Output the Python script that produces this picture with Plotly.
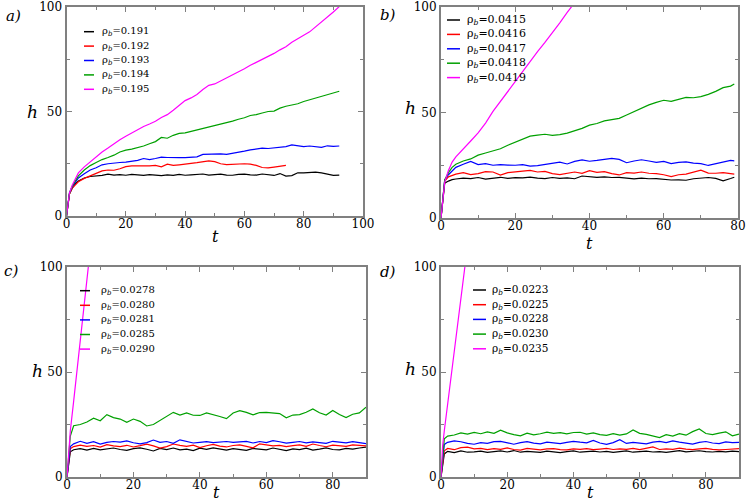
import plotly.graph_objects as go

W, H = 747, 503
COLORS = ["black", "#ff0000", "#0000ff", "#00a000", "#ff00ff"]
SERIF = "DejaVu Serif"

# ---- panel a) ----
T_A = [0, 0.5, 1, 2, 3, 4, 6, 8, 10, 12, 14, 16, 18, 20, 22, 24, 26, 28, 30, 32,
       34, 36, 38, 40, 42, 44, 46, 48, 50, 52, 54, 56, 58, 60, 62, 64, 66, 68, 70,
       72, 74, 76, 78, 80, 82, 84, 86, 88, 90, 92]
RHO_A = ["0.191", "0.192", "0.193", "0.194", "0.195"]
H_A_191 = [0, 6.5, 10.5, 13.5, 15.5, 16.8, 18.2, 18.9, 19.0, 19.4, 20.0, 19.6, 19.8,
           19.5, 19.9, 19.7, 19.4, 19.8, 19.5, 19.3, 19.7, 19.4, 19.9, 19.5, 19.7,
           19.9, 20.1, 19.6, 19.8, 20.0, 19.6, 19.5, 19.9, 20.0, 19.7, 19.6, 20.1,
           19.9, 19.4, 20.3, 19.1, 19.3, 20.7, 20.6, 20.9, 21.0, 20.6, 20.1, 19.4, 19.6]
H_A_192 = [0, 6.5, 10.5, 13.5, 15.0, 16.4, 18.0, 19.2, 20.6, 21.6, 22.0, 21.9, 22.6,
           23.6, 24.0, 23.9, 24.1, 24.0, 24.2, 23.5, 24.8, 24.2, 24.5, 25.0, 25.2,
           25.5, 26.0, 26.4, 26.0, 25.0, 24.6, 24.8, 24.9, 25.0, 24.8, 24.2, 23.2,
           23.0, 23.4, 23.8, 24.2]
H_A_193 = [0, 6.5, 11.0, 14.2, 16.4, 18.2, 20.2, 22.0, 23.1, 24.5, 25.0, 25.4, 25.6,
           25.8, 26.1, 26.6, 27.5, 27.0, 27.5, 28.2, 28.0, 27.8, 27.9, 27.9, 28.0,
           28.3, 29.5, 29.6, 29.7, 29.7, 29.5, 29.9, 30.5, 31.0, 31.6, 32.0, 32.5,
           32.3, 32.6, 32.9, 33.2, 34.0, 33.5, 33.2, 33.5, 33.0, 32.8, 33.6, 33.3, 33.5]
H_A_194 = [0, 6.5, 11.0, 14.5, 17.0, 19.2, 22.0, 24.1, 25.6, 27.0, 28.0, 29.1, 30.6,
           31.5, 32.0, 32.6, 33.5, 34.6, 35.6, 37.6, 37.2, 38.6, 39.5, 39.8, 40.5,
           41.3, 42.0, 42.4, 43.1, 44.0, 44.8, 45.4, 46.3, 47.0, 48.1, 48.5, 49.3,
           50.0, 50.2, 51.6, 52.5, 53.2, 53.7, 54.8, 55.6, 56.3, 57.0, 58.0, 58.8, 59.7]
H_A_195 = [0, 6.5, 11.0, 15.0, 18.0, 20.6, 23.5, 26.0, 28.5, 30.6, 32.5, 34.6, 36.5,
           38.2, 39.8, 41.3, 42.8, 44.0, 45.3, 47.1, 48.5, 50.6, 53.0, 55.2, 56.5,
           58.1, 60.5, 62.5, 63.2, 64.6, 66.0, 67.6, 69.0, 70.5, 72.1, 73.5, 75.0,
           76.1, 77.8, 79.5, 81.0, 83.1, 85.0, 86.5, 88.1, 90.5, 92.5, 95.0, 97.6, 100.2]

# ---- panel b) ----
T_B = [0, 0.5, 1, 2, 3, 4, 6, 8, 10, 12, 14, 16, 18, 20, 22, 24, 26, 28, 30, 32,
       34, 36, 38, 40, 42, 44, 46, 48, 50, 52, 54, 56, 58, 60, 62, 64, 66, 68, 70,
       72, 74, 76, 78, 79]
RHO_B = ["0.0415", "0.0416", "0.0417", "0.0418", "0.0419"]
H_B_415 = [0, 8.0, 16.5, 17.5, 18.2, 18.5, 18.9, 18.7, 19.2, 18.4, 19.0, 19.3, 18.8,
           19.1, 19.0, 19.4, 18.9, 18.7, 19.2, 18.8, 19.0, 18.6, 19.9, 19.6, 19.3,
           19.5, 19.2, 19.3, 18.8, 18.5, 18.9, 18.6, 18.7, 18.2, 18.0, 18.1, 17.9,
           18.6, 19.0, 19.2, 18.8, 17.6, 18.7, 19.3]
H_B_416 = [0, 8.5, 17.5, 19.5, 20.2, 20.8, 21.5, 20.6, 21.0, 22.0, 21.8, 20.3, 21.5,
           22.0, 22.2, 22.6, 21.8, 22.1, 21.0, 20.6, 21.2, 21.8, 21.2, 22.4, 21.6,
           22.0, 21.0, 20.4, 21.5, 21.3, 21.8, 21.2, 21.0, 20.5, 19.6, 20.5, 20.8,
           21.6, 22.7, 21.3, 21.2, 21.5, 20.9, 20.8]
H_B_417 = [0, 9.0, 18.0, 20.5, 22.5, 24.0, 25.5, 26.8, 25.3, 25.8, 25.0, 25.3, 25.1,
           25.0, 25.3, 24.6, 24.8, 25.4, 25.8, 26.5, 25.6, 26.8, 27.5, 26.9, 27.3,
           27.8, 28.3, 27.8, 26.2, 27.0, 27.6, 27.0, 26.4, 26.8, 25.8, 26.4, 26.6,
           26.0, 25.8, 24.9, 25.6, 26.3, 27.3, 27.1]
H_B_418 = [0, 9.0, 18.0, 21.5, 24.0, 25.5, 27.0, 28.0, 29.8, 30.8, 31.8, 32.8, 34.5,
           36.0, 37.5, 38.8, 39.3, 39.7, 39.2, 39.5, 40.2, 41.2, 42.5, 44.0, 44.8,
           46.0, 46.5, 47.2, 48.8, 50.5, 51.8, 53.6, 54.8, 55.8, 55.3, 56.4, 57.2,
           57.0, 57.5, 58.6, 60.0, 61.8, 62.5, 63.5]
H_B_419 = [0, 9.0, 17.0, 22.5, 26.5, 29.0, 33.0, 36.5, 40.3, 45.0, 50.5, 55.3, 60.0,
           64.8, 69.5, 74.2, 78.8, 83.2, 87.7, 92.5, 97.5, 102.0]

# ---- panels c) and d) share the time grid ----
T_CD = [0, 0.5, 1, 2, 4, 6, 8, 10, 12, 14, 16, 18, 20, 22, 24, 26, 28, 30, 32, 34,
        36, 38, 40, 42, 44, 46, 48, 50, 52, 54, 56, 58, 60, 62, 64, 66, 68, 70, 72,
        74, 76, 78, 80, 82, 84, 86, 88, 90]
RHO_C = ["0.0278", "0.0280", "0.0281", "0.0285", "0.0290"]
H_C_278 = [0, 7, 12.0, 13.0, 13.5, 12.8, 13.6, 12.9, 13.4, 13.8, 13.1, 12.7, 13.5,
           13.9, 13.2, 12.4, 13.6, 13.0, 13.8, 12.9, 13.3, 12.6, 13.7, 13.2, 13.9,
           13.4, 12.8, 13.5, 13.1, 12.7, 13.6, 13.3, 12.9, 13.8, 13.2, 12.6, 13.4,
           13.0, 13.7, 12.8, 13.3, 13.9, 13.1, 12.9, 13.6, 13.3, 13.8, 14.2]
H_C_280 = [0, 8, 13.5, 14.5, 15.2, 14.6, 15.0, 14.2, 15.4, 14.8, 14.5, 15.1, 14.3,
           14.9, 15.6, 14.8, 13.8, 14.5, 15.7, 15.1, 14.6, 15.2, 14.0, 14.9, 15.5,
           14.7, 14.3, 15.0, 15.3, 14.6, 13.9, 15.8, 15.2, 14.8, 15.1, 14.5, 14.9,
           15.3, 14.6, 15.7, 15.0, 14.4, 15.2, 14.8, 14.6, 15.3, 14.9, 14.8]
H_C_281 = [0, 9, 14.5, 15.8, 17.0, 16.0, 16.8, 15.7, 16.5, 16.9, 16.6, 17.2, 16.3,
           15.8, 16.4, 17.6, 16.5, 16.9, 16.0, 17.7, 16.8, 16.2, 16.5, 16.8, 16.4,
           16.7, 16.9, 16.5, 16.8, 17.0, 16.2, 16.9, 16.4, 17.3, 16.8, 16.1, 16.5,
           16.9, 16.3, 16.7, 16.4, 16.0, 17.0, 16.6, 16.3, 16.8, 16.2, 15.9]
H_C_285 = [0, 10, 19.5, 24.4, 25.0, 26.2, 28.0, 26.8, 29.7, 28.3, 27.6, 26.0, 27.6,
           26.5, 24.3, 25.0, 27.0, 28.8, 30.8, 29.5, 30.5, 29.4, 29.3, 30.5, 29.8,
           28.8, 27.8, 30.5, 31.6, 30.8, 29.6, 30.7, 30.8, 30.4, 30.2, 28.2, 29.5,
           29.7, 30.8, 32.4, 30.6, 29.5, 31.7, 29.8, 28.3, 29.9, 30.5, 33.2]
H_C_290 = [0, 14, 22, 36, 65, 94, 123]

RHO_D = ["0.0223", "0.0225", "0.0228", "0.0230", "0.0235"]
H_D_223 = [0, 7, 11.0, 12.2, 11.6, 12.4, 11.8, 12.0, 12.3, 11.7, 12.1, 12.4, 11.9,
           12.6, 11.8, 12.2, 12.0, 11.7, 12.3, 11.9, 11.6, 12.1, 12.4, 11.8, 12.0,
           12.3, 11.9, 12.2, 11.7, 12.1, 12.4, 11.8, 12.0, 12.3, 11.9, 12.1, 11.7,
           12.2, 12.6, 12.0, 12.3, 12.5, 12.1, 11.9, 12.2, 12.0, 12.3, 12.1]
H_D_225 = [0, 8, 12.5, 13.6, 13.0, 14.0, 14.2, 13.4, 13.6, 13.0, 13.5, 13.2, 13.9,
           13.1, 12.8, 13.6, 13.3, 12.9, 13.4, 13.5, 13.0, 12.9, 13.4, 13.2, 13.5,
           13.0, 13.3, 13.6, 13.1, 13.4, 13.2, 13.6, 13.0, 13.5, 14.3, 13.1, 13.4,
           13.2, 13.7, 13.3, 13.0, 13.4, 13.6, 13.2, 12.9, 13.1, 13.4, 13.5]
H_D_228 = [0, 9, 15.5, 16.5, 17.2, 16.8, 16.0, 15.6, 16.4, 16.0, 16.8, 17.0, 16.2,
           15.6, 16.4, 16.8, 16.1, 15.8, 16.6, 16.3, 15.9, 16.5, 17.0, 16.6, 16.3,
           17.4, 16.2, 15.5, 16.4, 17.8, 16.0, 16.5, 16.2, 15.8, 16.6, 17.0, 16.4,
           17.2, 16.6, 16.3, 15.7, 16.5, 16.9, 16.2, 15.9, 16.7, 16.4, 16.5]
H_D_230 = [0, 10, 18.2, 19.5, 20.0, 21.0, 20.4, 21.2, 20.6, 21.5, 20.8, 22.3, 21.0,
           20.2, 19.6, 20.9, 20.1, 20.6, 21.4, 20.8, 21.1, 20.5, 21.2, 21.3, 20.4,
           21.0, 20.2, 19.8, 20.6, 19.9, 20.5, 22.4, 20.8, 20.3, 19.7, 18.8, 20.2,
           19.5, 20.6, 19.9, 21.6, 22.9, 20.7, 20.2, 20.9, 21.5, 19.6, 20.4]
H_D_235 = [0, 15, 22, 34.6, 59.8, 85, 110]

# page pixels (747x503): axis box; key = (swatch x0, swatch x1, text x,
# first row centre, row step, font size); panel tag; t / h title centres
PANELS = [
    dict(label="a)", t=T_A, rho=RHO_A,
         series=[H_A_191, H_A_192, H_A_193, H_A_194, H_A_195],
         xrange=[0, 100], xpx=(66.5, 363), ypx=(7, 216),
         key=(84, 94, 100, 31.7, 14.4, 10), tag=(4, 5), tpos=(215, 236),
         hpos=(32, 112)),
    dict(label="b)", t=T_B, rho=RHO_B,
         series=[H_B_415, H_B_416, H_B_417, H_B_418, H_B_419],
         xrange=[0, 80], xpx=(441, 738), ypx=(7, 218),
         key=(447, 460, 465, 20, 14.4, 11), tag=(378, 4), tpos=(589, 243),
         hpos=(411, 108)),
    dict(label="c)", t=T_CD, rho=RHO_C,
         series=[H_C_278, H_C_280, H_C_281, H_C_285, H_C_290],
         xrange=[0, 90], xpx=(67, 366), ypx=(267, 477),
         key=(80, 90, 99, 290.7, 14.6, 10), tag=(2, 260), tpos=(216, 492),
         hpos=(37, 371)),
    dict(label="d)", t=T_CD, rho=RHO_D,
         series=[H_D_223, H_D_225, H_D_228, H_D_230, H_D_235],
         xrange=[0, 90], xpx=(441, 739), ypx=(267, 477),
         key=(473, 486, 490, 290, 14.7, 10.5), tag=(378, 261), tpos=(590, 492),
         hpos=(411, 369)),
]


def axis_style(rng, dtick, minor_dtick):
    return dict(
        range=rng, tick0=0, dtick=dtick,
        ticks="inside", ticklen=5, tickwidth=1, tickcolor="#808080",
        minor=dict(ticks="inside", ticklen=3, dtick=minor_dtick,
                   tickcolor="#808080", showgrid=False),
        showline=True, linecolor="#808080", linewidth=2, mirror="allticks",
        showgrid=False, zeroline=False, automargin=False,
        ticklabeloverflow="allow",
        tickfont=dict(family=SERIF, size=12, color="black"),
    )


def paper_text(text, x, y, size, xanchor="center", yanchor="middle"):
    return dict(text=text, xref="paper", yref="paper", x=x / W, y=1 - y / H,
                xanchor=xanchor, yanchor=yanchor, showarrow=False,
                font=dict(family=SERIF, size=size, color="black"))


fig = go.Figure()
layout = dict(
    width=W, height=H,
    margin=dict(l=0, r=0, t=0, b=0),
    paper_bgcolor="white", plot_bgcolor="white",
    font=dict(family=SERIF, color="black"),
    showlegend=False,
    annotations=[],
    shapes=[],
)

for i, p in enumerate(PANELS):
    n = "" if i == 0 else str(i + 1)
    for k, (h, col) in enumerate(zip(p["series"], COLORS)):
        fig.add_trace(go.Scatter(
            x=p["t"][:len(h)], y=h, mode="lines",
            line=dict(color=col, width=1.2),
            name="ρ<sub>b</sub>=" + p["rho"][k],
            xaxis="x" + n, yaxis="y" + n,
        ))

    xa = axis_style(p["xrange"], 20, 10)
    xa.update(domain=[p["xpx"][0] / W, p["xpx"][1] / W], anchor="y" + n,
              ticklabelstandoff=-4)
    ya = axis_style([0, 100], 50, 25)
    ya.update(domain=[1 - p["ypx"][1] / H, 1 - p["ypx"][0] / H], anchor="x" + n)
    layout["xaxis" + n] = xa
    layout["yaxis" + n] = ya

    # key: one row per curve, a short coloured swatch then the rho_b value
    sx0, sx1, tx, ky, step, size = p["key"]
    for k, (r, col) in enumerate(zip(p["rho"], COLORS)):
        yk = 1 - (ky + k * step) / H
        layout["shapes"].append(dict(
            type="line", xref="paper", yref="paper",
            x0=sx0 / W, x1=sx1 / W, y0=yk, y1=yk,
            line=dict(color=col, width=1.5)))
        layout["annotations"].append(paper_text(
            "ρ<sub><i>b</i></sub>=" + r, tx, ky + k * step, size, xanchor="left"))

    layout["annotations"] += [
        paper_text("<i>" + p["label"] + "</i>", p["tag"][0], p["tag"][1], 15,
                   xanchor="left", yanchor="top"),
        paper_text("<i>t</i>", p["tpos"][0], p["tpos"][1], 16),
        paper_text("<i>h</i>", p["hpos"][0], p["hpos"][1], 17),
    ]

fig.update_layout(**layout)
fig.write_html("out.html", config={"displayModeBar": False},
               post_script="document.body.style.margin = '0';")
